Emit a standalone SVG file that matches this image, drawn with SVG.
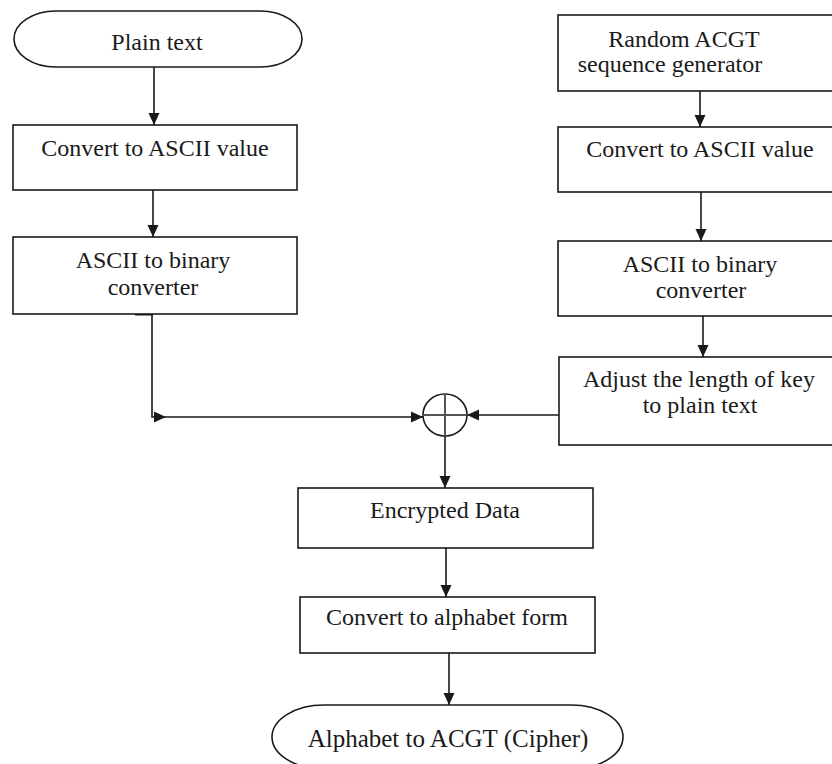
<svg xmlns="http://www.w3.org/2000/svg" width="832" height="764" viewBox="0 0 832 764">
<defs>
<style>
.box{fill:#fff;stroke:#1a1a1a;stroke-width:1.6}
.t{font-family:"Liberation Serif","Times New Roman",serif;font-size:24px;fill:#1a1a1a;text-anchor:middle}
.c{fill:none;stroke:#1a1a1a;stroke-width:1.6}
</style>
<marker id="ah" viewBox="0 0 12 12" refX="12" refY="6" markerWidth="12" markerHeight="12" orient="auto" markerUnits="userSpaceOnUse">
<path d="M0,0.5 L12,6 L0,11.5 z" fill="#1a1a1a"/>
</marker>
</defs>
<rect width="832" height="764" fill="#fff"/>

<g id="connectors">
<path class="c" d="M154,67 V125" marker-end="url(#ah)"/>
<path class="c" d="M153,190 V237" marker-end="url(#ah)"/>
<line x1="135" y1="314" x2="153" y2="314" stroke="#1a1a1a" stroke-width="3"/>
<path class="c" d="M152,314 V417 H166" marker-end="url(#ah)"/>
<path class="c" d="M166,417 H423" marker-end="url(#ah)"/>
<path class="c" d="M700,91 V127" marker-end="url(#ah)"/>
<path class="c" d="M701,192 V241" marker-end="url(#ah)"/>
<path class="c" d="M703,316 V357" marker-end="url(#ah)"/>
<path class="c" d="M559,415 H467" marker-end="url(#ah)"/>
<path class="c" d="M445,436 V488" marker-end="url(#ah)"/>
<path class="c" d="M446,548 V597" marker-end="url(#ah)"/>
<path class="c" d="M449,653 V705" marker-end="url(#ah)"/>
</g>

<g id="xor">
<ellipse cx="445" cy="415" rx="22" ry="21" fill="#fff" stroke="#1a1a1a" stroke-width="1.6"/>
<line x1="445" y1="394" x2="445" y2="436" stroke="#555" stroke-width="2"/>
<line x1="423" y1="415" x2="467" y2="415" stroke="#555" stroke-width="2"/>
</g>

<g id="plain-text">
<rect class="box" x="14" y="11" width="288" height="56" rx="42" ry="28"/>
<text class="t" x="157" y="50">Plain text</text>
</g>

<g id="left-ascii">
<rect class="box" x="13" y="125" width="284" height="65"/>
<text class="t" x="155" y="156">Convert to ASCII value</text>
</g>

<g id="left-binary">
<rect class="box" x="13" y="237" width="284" height="77"/>
<text class="t" x="153" y="268">ASCII to binary</text>
<text class="t" x="153" y="295">converter</text>
</g>

<g id="random-gen">
<rect class="box" x="558" y="15" width="276" height="76"/>
<text class="t" x="684" y="47">Random ACGT</text>
<text class="t" x="670" y="72">sequence generator</text>
</g>

<g id="right-ascii">
<rect class="box" x="558" y="127" width="276" height="65"/>
<text class="t" x="700" y="157">Convert to ASCII value</text>
</g>

<g id="right-binary">
<rect class="box" x="558" y="241" width="276" height="75"/>
<text class="t" x="700" y="272">ASCII to binary</text>
<text class="t" x="701" y="298">converter</text>
</g>

<g id="adjust">
<rect class="box" x="559" y="357" width="275" height="88"/>
<text class="t" x="699" y="387">Adjust the length of key</text>
<text class="t" x="700" y="413">to plain text</text>
</g>

<g id="encrypted">
<rect class="box" x="298" y="488" width="295" height="60"/>
<text class="t" x="445" y="518">Encrypted Data</text>
</g>

<g id="alphabet">
<rect class="box" x="300" y="597" width="295" height="56"/>
<text class="t" x="447" y="625">Convert to alphabet form</text>
</g>

<g id="cipher">
<rect class="box" x="272" y="705" width="351" height="64" rx="52" ry="32"/>
<text class="t" x="448" y="747" style="font-size:25px">Alphabet to ACGT (Cipher)</text>
</g>
</svg>
